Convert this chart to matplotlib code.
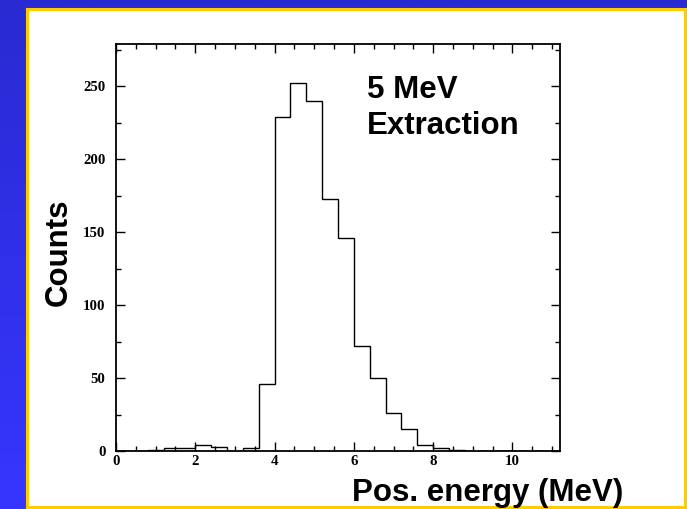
import numpy as np
import matplotlib
matplotlib.use("Agg")
import matplotlib.pyplot as plt
from matplotlib.patches import Rectangle
from matplotlib.ticker import MultipleLocator

# histogram of positron energy, 0.4 MeV bins starting at 0
bin_width = 0.4
counts = [0, 0, 1, 2, 2, 4, 3, 0, 2, 46,
          229, 252, 240, 173, 146, 72, 50, 26, 15, 4,
          2, 1, 0, 0, 0, 0, 0, 0]
x_ticks = [0, 2, 4, 6, 8, 10]
y_ticks = [0, 50, 100, 150, 200, 250]

edges = np.arange(len(counts) + 1) * bin_width

W, H = 687, 509
fig = plt.figure(figsize=(W / 100, H / 100), dpi=100)

# blue slide background with yellow framed white panel
bg = fig.add_axes([0, 0, 1, 1], zorder=0)
grad = np.linspace(0, 1, 256).reshape(-1, 1)
top = np.array([42, 42, 210]) / 255
bot = np.array([54, 54, 255]) / 255
img = top + (bot - top) * grad[..., None]
bg.imshow(img, aspect="auto", extent=[0, 1, 0, 1], origin="upper")
bg.add_patch(Rectangle((26.5 / W, (H - 506.5) / H), (685 - 26.5) / W, (506.5 - 8.5) / H,
                       transform=bg.transAxes, facecolor="white",
                       edgecolor="#ffcc00", lw=2.2))
bg.set_xlim(0, 1)
bg.set_ylim(0, 1)
bg.axis("off")

ax = fig.add_axes([116 / W, 58 / H, 444 / W, 407 / H], zorder=1)
ax.stairs(counts, edges, color="black", lw=1.0)
ax.set_xlim(0, 11.2)
ax.set_ylim(0, 279)

ax.set_xticks(x_ticks)
ax.set_yticks(y_ticks)
ax.xaxis.set_minor_locator(MultipleLocator(0.5))
ax.yaxis.set_minor_locator(MultipleLocator(25))
ax.tick_params(which="both", direction="in", top=True, right=True, width=1.0)
ax.tick_params(which="major", length=6.5)
ax.tick_params(which="minor", length=3.5)
ax.tick_params(axis="y", pad=7.5)
ax.tick_params(axis="x", pad=3.0)
for lab in ax.get_xticklabels() + ax.get_yticklabels():
    lab.set_family("Liberation Serif")
    lab.set_fontweight("bold")
    lab.set_fontsize(10.7)
for s in ax.spines.values():
    s.set_linewidth(1.3)

big = dict(family="Liberation Sans", fontweight="bold", fontsize=22.5, color="black")
fig.text(367 / W, (H - 97.5) / H, "5 MeV", va="baseline", ha="left", **big)
fig.text(367 / W, (H - 134) / H, "Extraction", va="baseline", ha="left", **big)
fig.text(352 / W, (H - 501) / H, "Pos. energy (MeV)", va="baseline", ha="left", **big)
fig.text(59 / W, (H - 252.5) / H, "Counts", rotation=90, va="center", ha="center", **big)

fig.savefig("out.png", dpi=100)
